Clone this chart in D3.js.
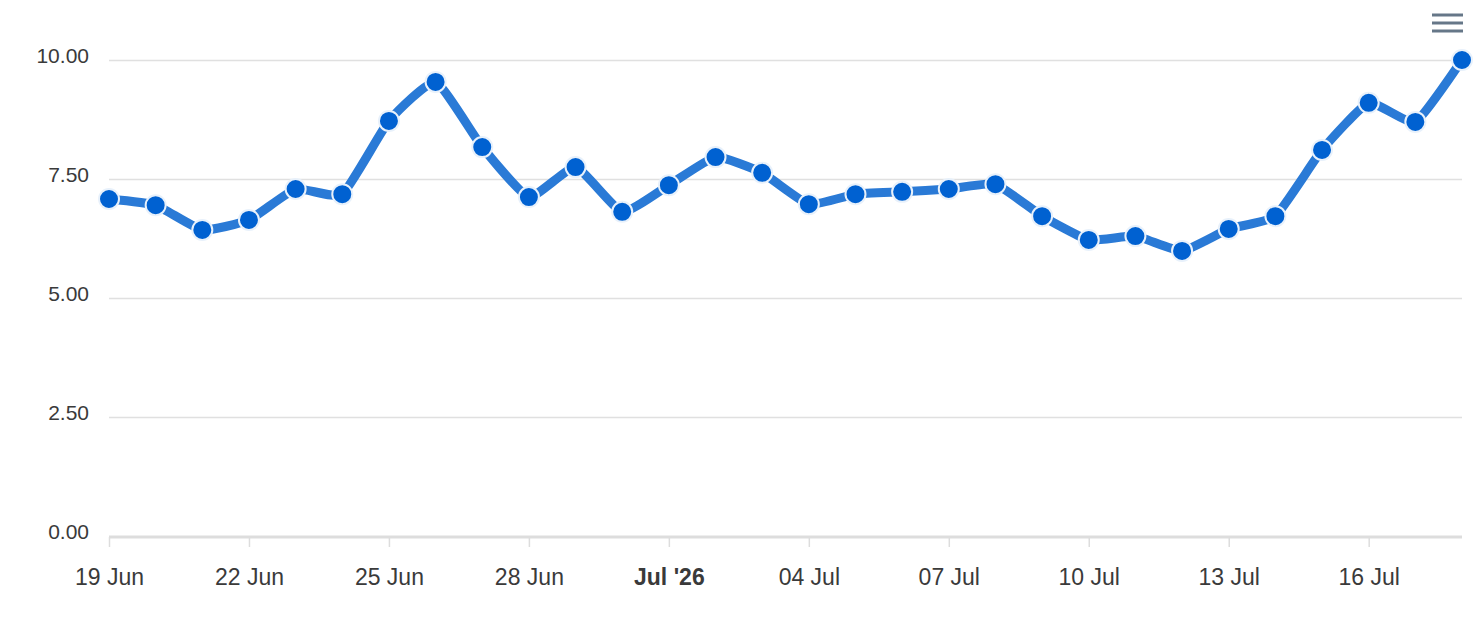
<!DOCTYPE html>
<html>
<head>
<meta charset="utf-8">
<script src="https://cdn.jsdelivr.net/npm/d3@7"></script>
<style>
  body { margin: 0; background: #fff; }
  svg { display: block; font-family: "Liberation Sans", Arial, sans-serif; }
</style>
</head>
<body>
<script>
var width = 1482;
var height = 632;
var plotLeft = 109, plotRight = 1462, plotTop = 60, plotBottom = 537;

// daily values, 19 Jun .. 18 Jul 2026
var dates = ["2026-06-19","2026-06-20","2026-06-21","2026-06-22","2026-06-23","2026-06-24","2026-06-25",
  "2026-06-26","2026-06-27","2026-06-28","2026-06-29","2026-06-30","2026-07-01","2026-07-02","2026-07-03",
  "2026-07-04","2026-07-05","2026-07-06","2026-07-07","2026-07-08","2026-07-09","2026-07-10","2026-07-11",
  "2026-07-12","2026-07-13","2026-07-14","2026-07-15","2026-07-16","2026-07-17","2026-07-18"];
var values = [7.08, 6.95, 6.43, 6.64, 7.29, 7.18, 8.72, 9.54, 8.17, 7.12, 7.75, 6.81, 7.37, 7.96, 7.63,
  6.97, 7.18, 7.23, 7.29, 7.39, 6.72, 6.22, 6.30, 5.99, 6.45, 6.72, 8.11, 9.10, 8.70, 10.00];
var yTicks = [0, 2.5, 5, 7.5, 10];
var xTickDates = ["2026-06-19","2026-06-22","2026-06-25","2026-06-28","2026-07-01","2026-07-04",
  "2026-07-07","2026-07-10","2026-07-13","2026-07-16"];

var parse = d3.timeParse("%Y-%m-%d");
var data = dates.map(function(d, i){ return {date: parse(d), value: values[i]}; });

var svg = d3.select("body").append("svg")
    .attr("width", width)
    .attr("height", height);

var x = d3.scaleTime()
    .domain(d3.extent(data, function(d){ return d.date; }))
    .range([plotLeft, plotRight]);
var y = d3.scaleLinear()
    .domain([0, 10])
    .range([plotBottom - 1, plotTop]);

// grid
svg.append("g").selectAll("line")
    .data(yTicks.filter(function(t){ return t > 0; }))
    .enter().append("line")
    .attr("x1", plotLeft).attr("x2", plotRight)
    .attr("y1", function(d){ return Math.round(y(d)) + 0.5; })
    .attr("y2", function(d){ return Math.round(y(d)) + 0.5; })
    .attr("stroke", "#e0e0e0")
    .attr("stroke-width", 1.5);

// y labels
svg.append("g").selectAll("text")
    .data(yTicks)
    .enter().append("text")
    .attr("x", 89)
    .attr("y", function(d){ return y(d) + 3; })
    .attr("text-anchor", "end")
    .style("font-size", "21px")
    .style("fill", "#3a3a3a")
    .text(d3.format(".2f"));

// x axis
var xAxis = d3.axisBottom(x)
    .tickValues(xTickDates.map(parse))
    .tickSize(10)
    .tickPadding(22)
    .tickFormat(function(d){
      return d.getDate() === 1 ? d3.timeFormat("%b '%y")(d) : d3.timeFormat("%d %b")(d);
    });
var gx = svg.append("g")
    .attr("transform", "translate(0," + plotBottom + ")")
    .call(xAxis);
gx.select(".domain").attr("stroke", "#ddd").attr("stroke-width", 3)
    .attr("d", "M" + plotLeft + ",0H" + plotRight);
gx.selectAll(".tick line").attr("stroke", "#ddd").attr("stroke-width", 1.5);
gx.selectAll(".tick text")
    .style("font-size", "23px")
    .style("fill", "#3a3a3a")
    .style("font-family", "\"Liberation Sans\", Arial, sans-serif")
    .style("font-weight", function(d){ return d.getDate() === 1 ? "bold" : "normal"; });

// line
var line = d3.line()
    .x(function(d){ return x(d.date); })
    .y(function(d){ return y(d.value); })
    .curve(d3.curveCardinal.tension(0.55));
svg.append("path")
    .datum(data)
    .attr("d", line)
    .attr("fill", "none")
    .attr("stroke", "#2a7ad6")
    .attr("stroke-width", 9)
    .attr("stroke-linejoin", "round")
    .attr("stroke-linecap", "round");

svg.append("g").selectAll("circle")
    .data(data)
    .enter().append("circle")
    .attr("cx", function(d){ return x(d.date); })
    .attr("cy", function(d){ return y(d.value); })
    .attr("r", 10)
    .attr("fill", "#0061d1")
    .attr("stroke", "#e8f1fb")
    .attr("stroke-width", 2);

// menu icon
svg.append("g").selectAll("line")
    .data([15, 23, 31])
    .enter().append("line")
    .attr("x1", 1432).attr("x2", 1463)
    .attr("y1", function(d){ return d; }).attr("y2", function(d){ return d; })
    .attr("stroke", "#667788")
    .attr("stroke-width", 3);
</script>
</body>
</html>
